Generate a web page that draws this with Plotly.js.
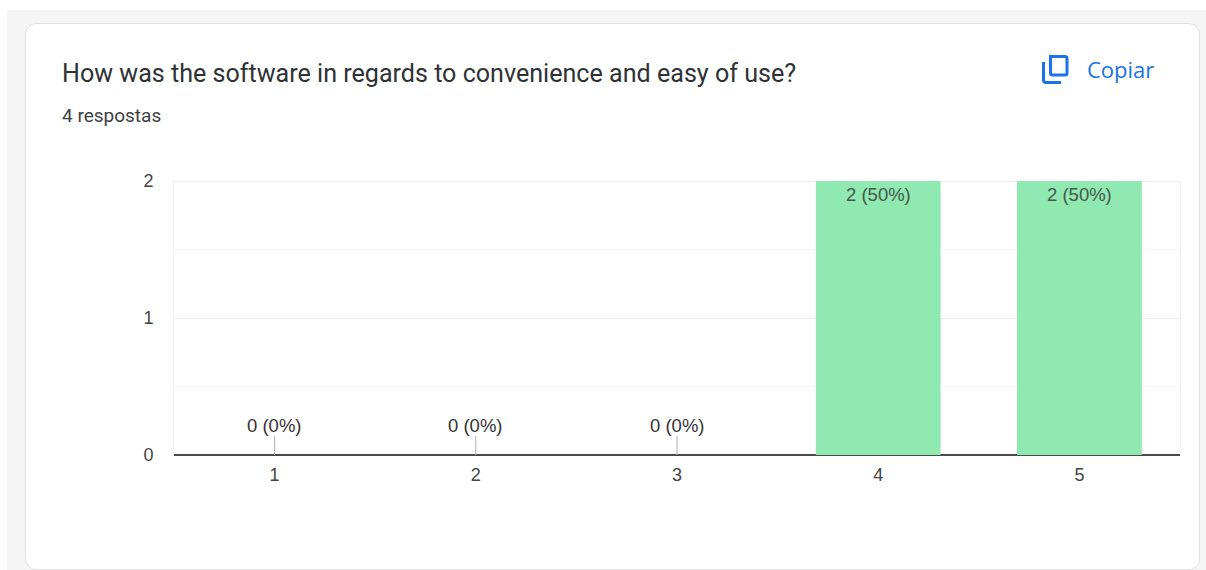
<!DOCTYPE html>
<html>
<head>
<meta charset="utf-8">
<script src="https://cdn.plot.ly/plotly-3.0.1.min.js"></script>
<style>
  html, body { margin: 0; padding: 0; background: #ffffff; }
  #page { position: relative; width: 1206px; height: 570px; overflow: hidden; }
  #backdrop { position: absolute; left: 7px; top: 10px; width: 1199px; height: 560px; background: #f5f5f5; }
  #card { position: absolute; left: 25px; top: 23px; width: 1173px; height: 545px; background: #ffffff;
          border: 1px solid #dfe0e2; border-radius: 11px; }
  #chart { position: absolute; left: 0; top: 0; width: 1206px; height: 570px; }
  #copy-icon { position: absolute; left: 1041px; top: 53px; }
</style>
</head>
<body>
<div id="page">
  <div id="backdrop"></div>
  <div id="card"></div>
  <div id="chart"></div>
  <!-- Copy glyph beside the "Copiar" action -->
  <svg id="copy-icon" width="28" height="32" viewBox="0 0 28 32" fill="none" stroke="#1a73e8" stroke-width="3">
    <path d="M9.5 3.5 H24 A2 2 0 0 1 26 5.5 V20 A2 2 0 0 1 24 22 H11.5 A2 2 0 0 1 9.5 20 Z"/>
    <path d="M2.5 9 V27 A2.5 2.5 0 0 0 5 29.5 H20"/>
  </svg>
</div>
<script>
const categories = [1, 2, 3, 4, 5];
const counts = [0, 0, 0, 2, 2];
const percents = [0, 0, 0, 50, 50];
const questionTitle = "How was the software in regards to convenience and easy of use?";
const responseCount = "4 respostas";
const copyLabel = "Copiar";

const labelFont = { family: "Liberation Sans, Arial, sans-serif", size: 18, color: "#444444" };
const stemHeight = 19;
const yMax = 2;

// Value labels: inside the top of tall bars, lifted above a short stem for empty bars.
const valueLabels = categories.map((c, i) => ({
  x: c, y: counts[i], xref: "x", yref: "y",
  text: counts[i] + " (" + percents[i] + "%)",
  showarrow: false,
  font: counts[i] > 0 ? { ...labelFont, size: 18.5, color: "#45574c" } : { ...labelFont, size: 18.5, color: "#333333" },
  yanchor: counts[i] > 0 ? "top" : "bottom",
  yshift: counts[i] > 0 ? -1 : stemHeight - 2
}));

// Stems marking empty categories.
const stems = categories.map((c, i) => ({ c, i })).filter(d => counts[d.i] === 0).map(d => ({
  type: "line", xref: "x", yref: "y", ysizemode: "pixel",
  x0: d.c, x1: d.c, yanchor: 0, y0: 0, y1: stemHeight,
  line: { color: "#b0b0b0", width: 1 }
}));

// Hairline closing the top of the plot area, behind the bars.
const topRule = {
  type: "line", layer: "below", xref: "paper", yref: "y",
  x0: 0, x1: 1, y0: yMax, y1: yMax,
  line: { color: "#ebebeb", width: 1.5 }
};

const headerTexts = [
  { xref: "paper", yref: "paper", x: (60 - 174) / 1006, y: (454.5 - 115) / 274, xanchor: "left", yanchor: "middle",
    text: responseCount, showarrow: false, font: { family: "Roboto, sans-serif", size: 19, color: "#3c4043" } },
  { xref: "paper", yref: "paper", x: (1085 - 174) / 1006, y: (454.5 - 68) / 274, xanchor: "left", yanchor: "middle",
    text: copyLabel, showarrow: false, font: { family: "Open Sans, sans-serif", size: 22, weight: 500, color: "#1a73e8" } }
];

Plotly.newPlot("chart", [{
  type: "bar",
  x: categories,
  y: counts,
  width: 0.62,
  marker: { color: "#8fe9b0", line: { width: 0 } },
  hoverinfo: "skip"
}], {
  width: 1206,
  height: 570,
  margin: { l: 174, r: 26, t: 181, b: 115, pad: 0 },
  paper_bgcolor: "rgba(0,0,0,0)",
  plot_bgcolor: "rgba(0,0,0,0)",
  showlegend: false,
  title: {
    text: questionTitle,
    x: 62 / 1206, xref: "container", xanchor: "left",
    y: 1 - 73 / 570, yref: "container", yanchor: "middle",
    font: { family: "Roboto, sans-serif", size: 25.1, color: "#2f3235" }
  },
  xaxis: {
    type: "linear",
    range: [0.5, 5.5],
    tickmode: "array", tickvals: categories, ticktext: categories.map(String),
    showgrid: false, zeroline: false, showline: false,
    ticks: "", ticklabelstandoff: 7,
    tickfont: labelFont, fixedrange: true
  },
  yaxis: {
    range: [0, yMax],
    dtick: 1,
    showgrid: true, gridcolor: "#ebebeb", gridwidth: 1,
    minor: { dtick: 0.5, showgrid: true, gridcolor: "#f5f5f5", gridwidth: 1, ticks: "" },
    zeroline: true, zerolinecolor: "#4a4a4a", zerolinewidth: 1.5,
    showline: true, mirror: true, linecolor: "#f0f0f0", linewidth: 1,
    ticks: "", ticklabelstandoff: 16,
    tickfont: labelFont, fixedrange: true
  },
  shapes: stems.concat([topRule]),
  annotations: valueLabels.concat(headerTexts)
}, { displayModeBar: false, staticPlot: true });
</script>
</body>
</html>
